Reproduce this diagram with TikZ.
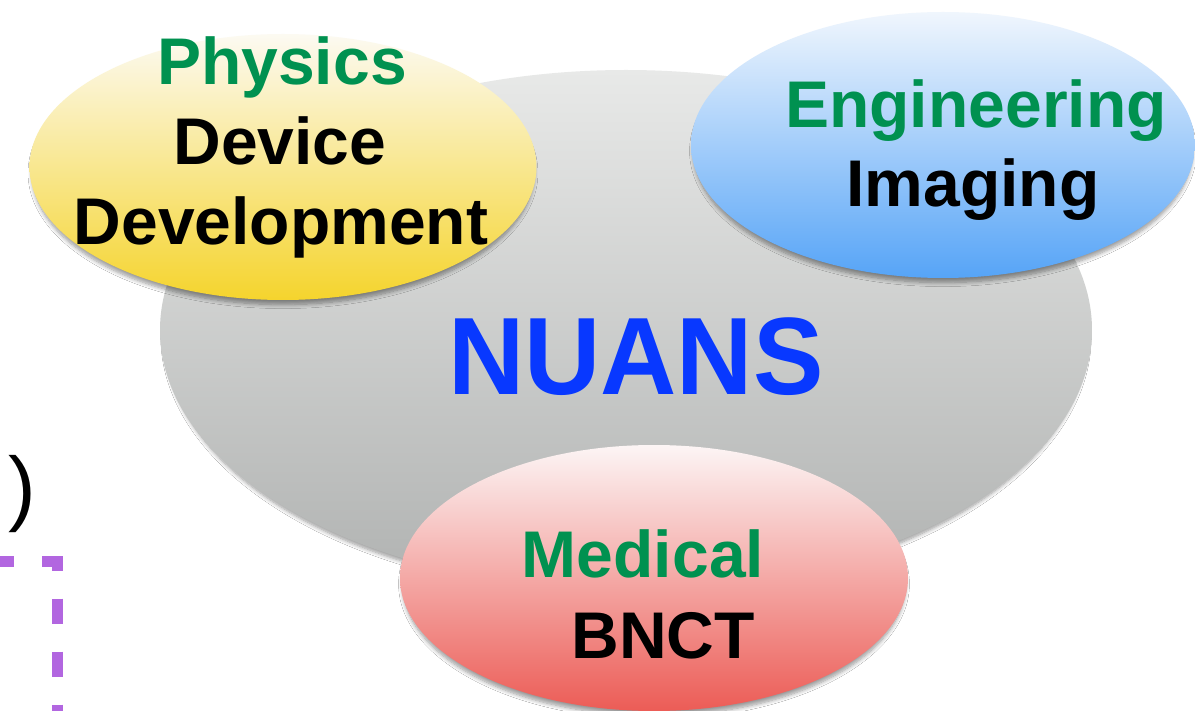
\documentclass[tikz,border=0pt]{standalone}
\usepackage{fontspec}
\setmainfont{Liberation Sans}
\usetikzlibrary{shapes.geometric,shadows.blur}
\definecolor{tgreen}{RGB}{0,145,80}
\definecolor{tblue}{RGB}{8,56,255}
\definecolor{tpurple}{RGB}{178,102,224}
\tikzset{
  blob/.style={ellipse, inner sep=0pt, draw=none,
    blur shadow={shadow xshift=0pt, shadow yshift=-6pt, shadow blur radius=4pt, shadow blur steps=8, shadow opacity=40, shadow scale=0.99}},
  lbl/.style={anchor=base, inner sep=0pt, font=\bfseries\fontsize{66}{79}\selectfont},
}
\begin{document}
\begin{tikzpicture}[x=1pt,y=-1pt]
\useasboundingbox[fill=white] (0,0) rectangle (1195,711);
% big gray ellipse
\node[blob, minimum width=932pt, minimum height=520pt, top color={rgb,255:red,232;green,233;blue,232}, bottom color={rgb,255:red,176;green,178;blue,177}] (nuansbg) at (626,330) {};
% yellow
\node[blob, minimum width=507pt, minimum height=266pt, top color={rgb,255:red,252;green,250;blue,242}, bottom color={rgb,255:red,245;green,212;blue,45}] (phys) at (283,167) {};
% blue
\node[blob, minimum width=504pt, minimum height=266pt, top color={rgb,255:red,240;green,246;blue,253}, bottom color={rgb,255:red,86;green,164;blue,247}] (eng) at (943,145) {};
% red
\node[blob, minimum width=508pt, minimum height=266pt, top color={rgb,255:red,252;green,245;blue,245}, bottom color={rgb,255:red,236;green,92;blue,86}] (med) at (654,578) {};
% texts
\node[lbl, text=tgreen] (t1) at (282,85) {Physics};
\node[lbl] (t2) at (280,165) {Device};
\node[lbl] (t3) at (281,245) {Development};
\node[lbl, text=tgreen] (t4) at (976,128) {Engineering};
\node[lbl] (t5) at (973,207) {Imaging};
\node[lbl, text=tgreen] (t6) at (643,577) {Medical};
\node[lbl] (t7) at (663,658) {BNCT};
\node[anchor=base, inner sep=0pt, text=tblue, font=\bfseries\fontsize{110}{120}\selectfont, xscale=0.96] (nuans) at (636,395) {NUANS};
% left fragment
\node[anchor=base west, inner sep=0pt, font=\fontsize{83}{90}\selectfont] (paren) at (8,515) {)};
\coordinate (p0) at (-11,561);
\coordinate (p1) at (57.5,561);
\coordinate (p2) at (57.5,730);
\draw[tpurple, line width=11pt, dash pattern=on 25pt off 28pt] (p0) -- (p1) -- (p2);
\end{tikzpicture}
\end{document}
